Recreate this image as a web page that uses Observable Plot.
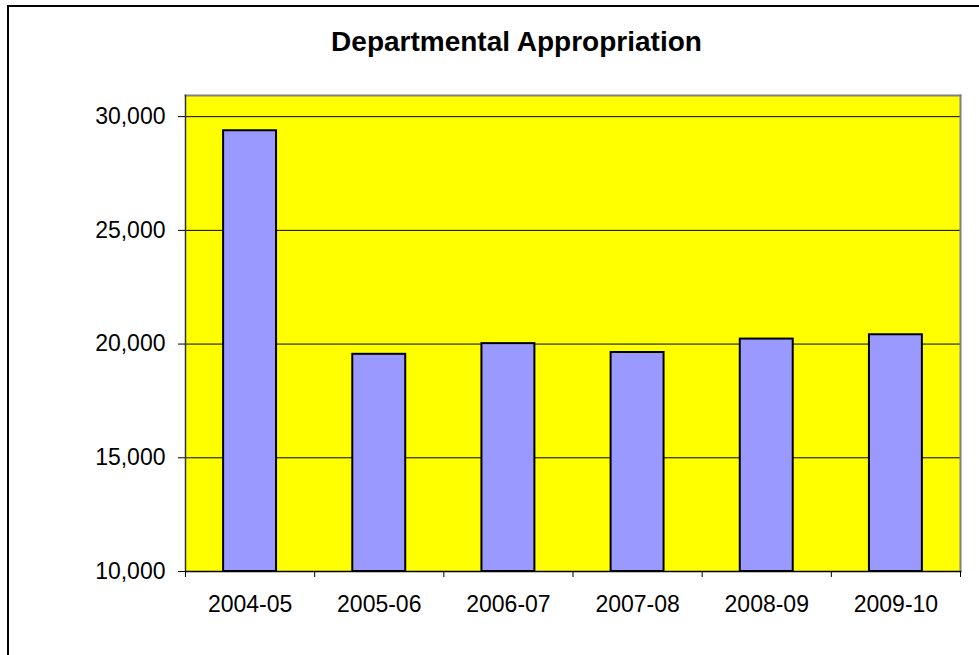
<!DOCTYPE html>
<html>
<head>
<meta charset="utf-8">
<script src="https://cdn.jsdelivr.net/npm/d3@7"></script>
<script src="https://cdn.jsdelivr.net/npm/@observablehq/plot@0.6"></script>
<style>
  html, body { margin: 0; padding: 0; background: #fff; }
  #wrap { position: relative; width: 979px; height: 655px; overflow: hidden; font-family: "Liberation Sans", Arial, sans-serif; }
  #frame { position: absolute; left: 7px; top: 5px; width: 1200px; height: 900px; border: 2px solid #000; box-sizing: border-box; }
  #title { position: absolute; left: 0; top: 25px; width: 1033px; text-align: center; font-weight: bold; font-size: 28px; line-height: 34px; color: #000; }
  #chart { position: absolute; left: 0; top: 0; }
</style>
</head>
<body>
<div id="wrap">
  <div id="frame"></div>
  <div id="chart"></div>
  <div id="title">Departmental Appropriation</div>
</div>
<script>
const categories = ["2004-05", "2005-06", "2006-07", "2007-08", "2008-09", "2009-10"];
const values = [29380, 19550, 20020, 19630, 20220, 20410];
const yTicks = [10000, 15000, 20000, 25000, 30000];

const data = categories.map((c, i) => ({category: c, index: i, value: values[i]}));
const fmt = d3.format(",");

const chart = Plot.plot({
  width: 979,
  height: 655,
  marginLeft: 185,
  marginRight: 19,
  marginTop: 95,
  marginBottom: 84,
  style: {fontFamily: "'Liberation Sans', Arial, sans-serif", background: "transparent", overflow: "visible"},
  x: {domain: [0, categories.length], axis: null},
  y: {domain: [10000, 30930], axis: null},
  marks: [
    Plot.frame({fill: "#FFFF00", stroke: "none"}),
    Plot.ruleY(yTicks.filter(t => t > 10000), {stroke: "#000", strokeWidth: 1}),
    Plot.rectY(data, {
      x1: d => d.index + 0.295,
      x2: d => d.index + 0.705,
      y1: 10000,
      y2: "value",
      fill: "#9999FF",
      stroke: "#000",
      strokeWidth: 2
    }),
    Plot.frame({anchor: "top", stroke: "#808080", strokeWidth: 2}),
    Plot.frame({anchor: "right", stroke: "#808080", strokeWidth: 2}),
    Plot.frame({anchor: "left", stroke: "#333", strokeWidth: 1.5}),
    Plot.frame({anchor: "bottom", stroke: "#000", strokeWidth: 1.5}),
    Plot.axisY({
      ticks: yTicks,
      tickFormat: fmt,
      tickSize: 7,
      tickPadding: 13,
      fontSize: 23,
      stroke: "#000",
      strokeOpacity: 1,
      fill: "#000",
      label: null
    }),
    Plot.axisX({
      ticks: d3.range(0, categories.length + 1),
      tickFormat: () => "",
      tickSize: 6,
      stroke: "#000",
      strokeOpacity: 1,
      label: null
    }),
    Plot.axisX({
      ticks: categories.map((c, i) => i + 0.5),
      tickFormat: v => categories[Math.floor(v)],
      tickSize: 0,
      tickPadding: 24,
      fontSize: 23,
      fill: "#000",
      label: null
    })
  ]
});
document.getElementById("chart").appendChild(chart);
</script>
</body>
</html>
